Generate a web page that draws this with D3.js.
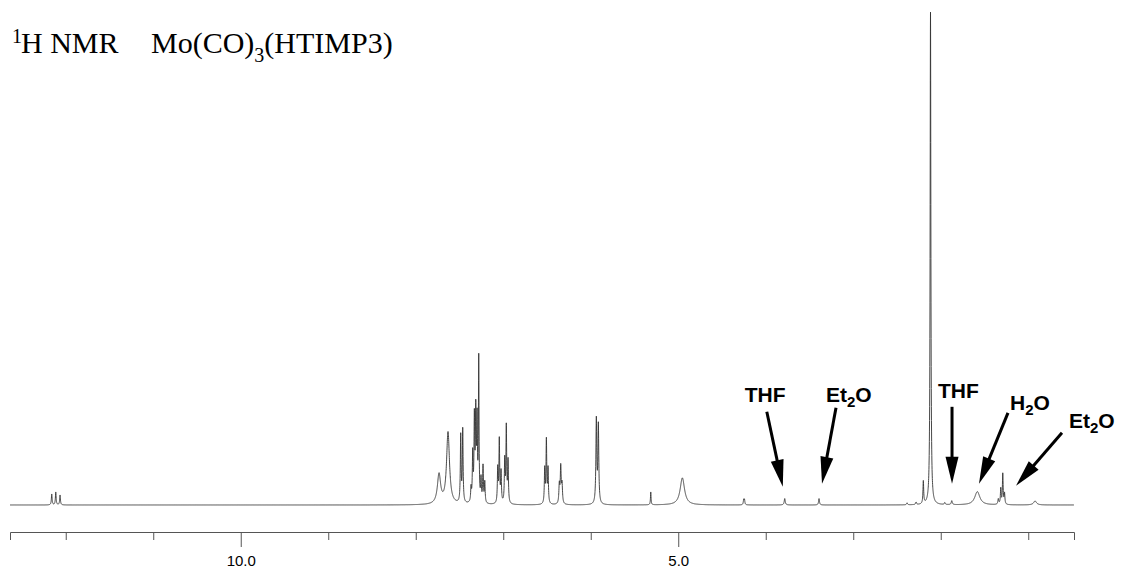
<!DOCTYPE html>
<html>
<head>
<meta charset="utf-8">
<script src="https://cdn.jsdelivr.net/npm/d3@7"></script>
<style>
  html, body { margin: 0; padding: 0; background: #fff; }
  svg { display: block; }
</style>
</head>
<body>
<svg id="chart" width="1123" height="570"></svg>
<script>
// ---- data ----
// chemical shift (ppm) of each resolved line
const peakPpm = [
  12.160, 12.114, 12.065,
  7.734, 7.631, 7.486, 7.463,
  7.368, 7.349, 7.330, 7.314, 7.299, 7.280, 7.254, 7.231, 7.211,
  7.063, 7.045, 7.025, 6.983, 6.965, 6.945,
  6.526, 6.507, 6.488, 6.359, 6.343, 6.328,
  5.936, 5.913, 5.314, 4.953, 4.252, 4.243,
  3.783, 3.391, 2.385, 2.282, 2.199, 2.117,
  1.954, 1.874, 1.582, 1.342, 1.314, 1.291, 1.271, 0.922
];
// relative intensity (% of the tallest line)
const peakHeight = [
  2.2, 2.6, 2.0,
  6.0, 14.6, 13.6, 14.8,
  2.8, 9.6, 16.6, 17.6, 16.0, 28.8, 4.6, 7.4, 4.2,
  7.0, 12.8, 6.2, 8.6, 15.4, 8.5,
  7.0, 12.8, 7.0, 3.8, 7.4, 3.8,
  17.0, 15.8, 2.6, 5.5, 1.0, 1.0,
  1.3, 1.3, 0.4, 0.5, 4.6, 100,
  0.4, 0.8, 2.7, 1.1, 3.2, 6.2, 2.2, 0.8
];
// half width at half height (ppm)
const peakWidth = [
  0.005, 0.005, 0.005,
  0.022, 0.020, 0.005, 0.005,
  0.005, 0.005, 0.005, 0.005, 0.005, 0.004, 0.005, 0.005, 0.005,
  0.005, 0.005, 0.005, 0.005, 0.005, 0.005,
  0.005, 0.005, 0.005, 0.006, 0.006, 0.006,
  0.006, 0.006, 0.004, 0.030, 0.005, 0.005,
  0.007, 0.006, 0.006, 0.006, 0.005, 0.005,
  0.006, 0.007, 0.035, 0.006, 0.005, 0.005, 0.005, 0.020
];

const axisTicks = [12, 11, 10, 9, 8, 7, 6, 5, 4, 3, 2, 1];
const axisLabels = { 10: "10.0", 5: "5.0" };

// solvent annotations: tip at (ppm, intensity)
const annoLabel = ["THF", "Et|2|O", "THF", "H|2|O", "Et|2|O"];
const annoPpm   = [3.805, 3.357, 1.871, 1.563, 1.140];
const annoInt   = [3.7, 4.3, 4.3, 4.3, 3.9];

// ---- drawing ----
const svg = d3.select("#chart");
const x = d3.scaleLinear().domain([12.637, 0.477]).range([10, 1074]);
const y = d3.scaleLinear().domain([0, 100]).range([505, 12.3]);

// spectrum built from the line list (Lorentzian line shape)
const peaks = peakPpm.map((p, i) => ({ p, h: peakHeight[i], w: peakWidth[i] }));
const grid = d3.range(12.637, 0.477, -0.001);
const spec = grid.map(d => {
  let s = 0;
  for (const pk of peaks) {
    const u = (d - pk.p) / pk.w;
    s += pk.h / (1 + u * u);
  }
  return [d, s];
});

svg.append("path")
  .datum(spec)
  .attr("fill", "none")
  .attr("stroke", "#333")
  .attr("stroke-width", 0.9)
  .attr("d", d3.line().x(d => x(d[0])).y(d => y(d[1])));

// axis
const gx = svg.append("g")
  .attr("transform", "translate(0,532)")
  .call(d3.axisBottom(x).tickValues(axisTicks).tickSizeOuter(0).tickSize(8)
    .tickFormat(d => axisLabels[d] || ""));
gx.select(".domain").attr("stroke", "#555").attr("stroke-width", 1);
gx.selectAll(".tick line").attr("stroke", "#555")
  .attr("y2", d => axisLabels[d] ? 15 : 8);
gx.selectAll(".tick text")
  .attr("y", 33.5).attr("dy", 0)
  .attr("fill", "#000")
  .style("font-family", "Arial, 'Liberation Sans', sans-serif")
  .style("font-size", "15px");

// title
const title = svg.append("text")
  .attr("y", 53.3)
  .attr("fill", "#000")
  .style("font-family", "'Times New Roman', 'Liberation Serif', serif")
  .style("font-size", "30px");
title.append("tspan").attr("x", 12).attr("y", 43).style("font-size", "20px").text("1");
title.append("tspan").attr("x", 21).attr("y", 53.3).text("H NMR");
title.append("tspan").attr("x", 151).text("Mo(CO)");
title.append("tspan").attr("dy", 9).style("font-size", "20px").text("3");
title.append("tspan").attr("dy", -9).text("(HTIMP3)");

// annotation geometry (pixel offsets from arrow tip)
const tailDx = [-16, 14, 0, 29, 46];
const tailDy = [-75, -76, -77, -71, -53];
const textDx = [-38, 4, -14, 31, 53];
const textDy = [-85, -82, -86, -74, -58];

const ag = svg.append("g");
annoLabel.forEach((lab, i) => {
  const tx = x(annoPpm[i]), ty = y(annoInt[i]);
  const sx = tx + tailDx[i], sy = ty + tailDy[i];
  const ang = Math.atan2(ty - sy, tx - sx);
  const L = 27, W = 6.5;
  const bx = tx - L * Math.cos(ang), by = ty - L * Math.sin(ang);
  ag.append("line")
    .attr("x1", sx).attr("y1", sy).attr("x2", bx + 2 * Math.cos(ang)).attr("y2", by + 2 * Math.sin(ang))
    .attr("stroke", "#000").attr("stroke-width", 3);
  const px = -Math.sin(ang), py = Math.cos(ang);
  ag.append("polygon")
    .attr("points", [[tx, ty], [bx + W * px, by + W * py], [bx - W * px, by - W * py]].map(p => p.join(",")).join(" "))
    .attr("fill", "#000");
  const parts = lab.split("|");
  const t = ag.append("text")
    .attr("x", tx + textDx[i]).attr("y", ty + textDy[i])
    .attr("fill", "#000")
    .style("font-family", "Arial, 'Liberation Sans', sans-serif")
    .style("font-weight", "bold")
    .style("font-size", "21px");
  if (parts.length === 1) {
    t.text(lab);
  } else {
    t.append("tspan").text(parts[0]);
    t.append("tspan").attr("dy", 5).style("font-size", "15px").text(parts[1]);
    t.append("tspan").attr("dy", -5).text(parts[2]);
  }
});
</script>
</body>
</html>
